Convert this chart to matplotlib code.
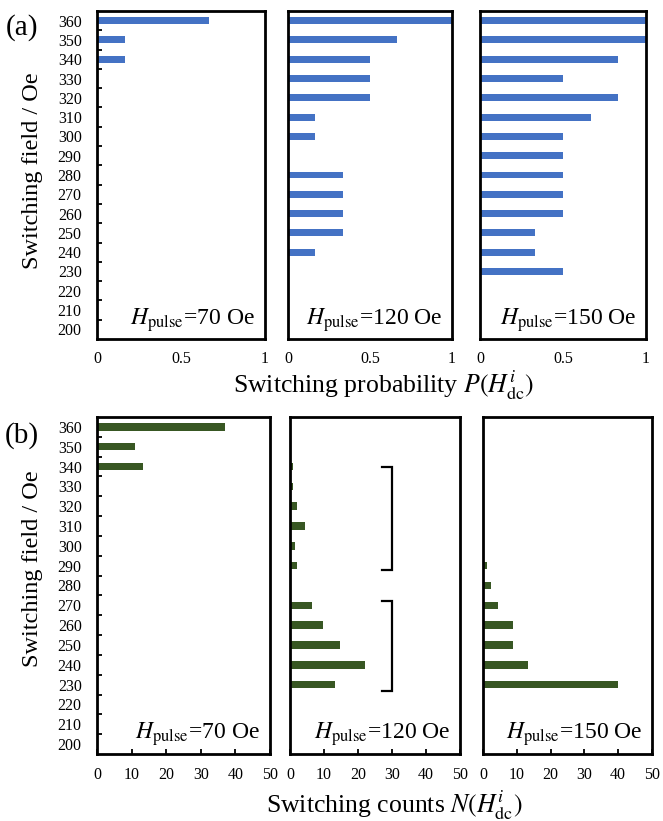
import numpy as np
import matplotlib
matplotlib.use("Agg")
import matplotlib.pyplot as plt
from matplotlib.ticker import FixedLocator

plt.rcParams['font.family'] = ['Liberation Serif', 'DejaVu Serif']
plt.rcParams['mathtext.fontset'] = 'stix'

# switching field categories (Oe)
fields = [200, 210, 220, 230, 240, 250, 260, 270, 280, 290, 300, 310, 320, 330, 340, 350, 360]

# (a) switching probability
p70 = [0, 0, 0, 0, 0, 0, 0, 0, 0, 0, 0, 0, 0, 0, 0.167, 0.167, 0.667]
p120 = [0, 0, 0, 0, 0.167, 0.333, 0.333, 0.333, 0.333, 0, 0.167, 0.167, 0.5, 0.5, 0.5, 0.667, 1.0]
p150 = [0, 0, 0, 0.5, 0.333, 0.333, 0.5, 0.5, 0.5, 0.5, 0.5, 0.667, 0.833, 0.5, 0.833, 1.0, 1.0]

# (b) switching counts
n70 = [0, 0, 0, 0, 0, 0, 0, 0, 0, 0, 0, 0, 0, 0, 13.4, 11, 37]
n120 = [0, 0, 0, 13.2, 22, 14.8, 9.6, 6.4, 0, 2.0, 1.5, 4.4, 2.0, 0.8, 0.8, 0.4, 0]
n150 = [0, 0, 0, 40, 13.3, 8.8, 8.8, 4.4, 2.5, 1.2, 0.2, 0.2, 0.2, 0.2, 0.2, 0.2, 0]

pulses = ['70', '120', '150']
prob_ticks = [0, 0.5, 1]
prob_labels = ['0', '0.5', '1']
count_ticks = [0, 10, 20, 30, 40, 50]

# brackets drawn on the 120 Oe count panel: (x_in, x_out, y_top, y_bottom)
brackets = [(27, 30, 340, 288), (27, 30, 272, 227)]

blue = '#4472C4'
green = '#385723'

fig = plt.figure(figsize=(6.63, 8.21), dpi=100)

pos_a = [(0.1463, 0.5871, 0.2534, 0.3995),
         (0.4344, 0.5871, 0.2474, 0.3995),
         (0.7240, 0.5871, 0.2504, 0.3995)]
pos_b = [(0.1463, 0.0816, 0.2609, 0.4105),
         (0.4374, 0.0816, 0.2564, 0.4105),
         (0.7285, 0.0816, 0.2549, 0.4105)]


def style_axes(ax, first):
    ax.set_ylim(195, 365)
    for s in ax.spines.values():
        s.set_linewidth(2.0)
        s.set_color('black')
    if first:
        ax.yaxis.set_major_locator(FixedLocator(fields))
        ax.set_yticklabels([str(f) for f in fields])
        ax.yaxis.set_minor_locator(FixedLocator(np.arange(205, 360, 10)))
        ax.tick_params(axis='y', which='major', length=0, pad=11, labelsize=11.5)
        ax.tick_params(axis='y', which='minor', direction='in', length=3.5, width=1.3)
    else:
        ax.set_yticks([])


def pulse_label(ax, p, dy):
    ax.annotate(r'$H_{\rm pulse}$=' + p + ' Oe', xy=(1, 0), xycoords='axes fraction',
                xytext=(-7, dy), textcoords='offset points', ha='right', va='baseline',
                fontsize=17)


# panel (a)
for i, (vals, p) in enumerate(zip([p70, p120, p150], pulses)):
    ax = fig.add_axes(pos_a[i])
    ax.barh(fields, vals, height=3.6, color=blue)
    ax.set_xlim(0, 1)
    ax.set_xticks(prob_ticks)
    ax.set_xticklabels(prob_labels)
    ax.tick_params(axis='x', length=0, pad=9, labelsize=11.5)
    style_axes(ax, i == 0)
    pulse_label(ax, p, 10)

# panel (b)
for i, (vals, p) in enumerate(zip([n70, n120, n150], pulses)):
    ax = fig.add_axes(pos_b[i])
    ax.barh(fields, vals, height=3.8, color=green)
    ax.set_xlim(0, 50)
    ax.set_xticks(count_ticks)
    ax.tick_params(axis='x', direction='in', length=3.5, width=1.3, pad=9, labelsize=11.5)
    style_axes(ax, i == 0)
    pulse_label(ax, p, 11)
    if i == 1:
        for x0, x1, y0, y1 in brackets:
            ax.plot([x0, x1, x1, x0], [y0, y0, y1, y1], color='black', lw=1.6,
                    solid_joinstyle='miter', clip_on=False)

fig.text(0.033, 0.967, '(a)', fontsize=21, ha='center', va='center')
fig.text(0.033, 0.470, '(b)', fontsize=21, ha='center', va='center')
fig.text(0.049, 0.7917, 'Switching field / Oe', rotation=90, fontsize=17.5, ha='center', va='center')
fig.text(0.049, 0.3069, 'Switching field / Oe', rotation=90, fontsize=17.5, ha='center', va='center')
fig.text(0.579, 0.522, r'Switching probability $P(H_{\rm dc}^{i})$', fontsize=18.5, ha='center', va='baseline')
fig.text(0.594, 0.010, r'Switching counts $N(H_{\rm dc}^{i})$', fontsize=18.5, ha='center', va='baseline')

fig.savefig('out.png', dpi=100)
